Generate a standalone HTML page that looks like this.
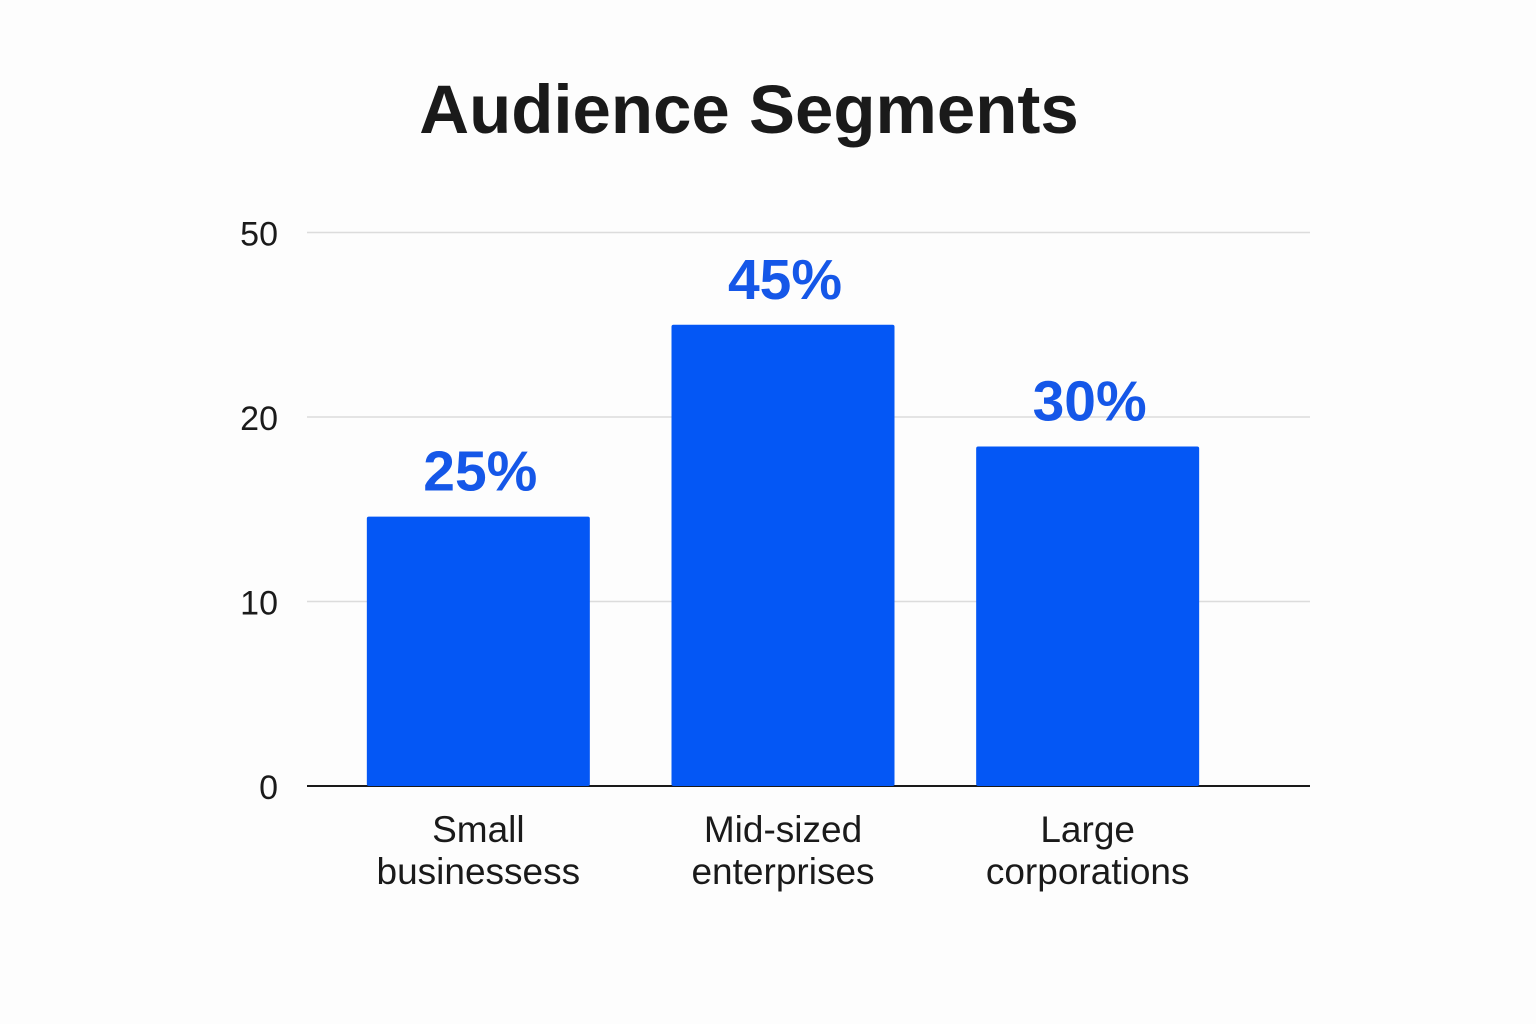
<!DOCTYPE html>
<html><head><meta charset="utf-8"><style>
html,body{margin:0;padding:0;background:#fdfdfd;}
svg{display:block;font-family:"Liberation Sans",sans-serif;}
</style></head><body>
<svg id="chart" width="1536" height="1024" viewBox="0 0 1536 1024">
<rect width="1536" height="1024" fill="#fdfdfd"/>
<text x="749" y="133" text-anchor="middle" font-size="69" font-weight="bold" fill="#1a1a1a">Audience Segments</text>
<g id="grid"></g><g id="bars"></g><g id="labels"></g>
</svg>
<script>
const categories = [["Small","businessess"],["Mid-sized","enterprises"],["Large","corporations"]];
const barValues = [14.6, 35, 18.4];
const valueLabels = ["25%","45%","30%"];
const tickValues = [0, 10, 20, 50];
const tickLabels = ["0","10","20","50"];

const NS="http://www.w3.org/2000/svg";
const plotL=307, plotR=1310, y0=786, step=184.5;
const bandStart=326, bandEnd=1240;
function yScale(v){
  for(let i=0;i<tickValues.length-1;i++){
    if(v<=tickValues[i+1]){const f=(v-tickValues[i])/(tickValues[i+1]-tickValues[i]);return y0-(i+f)*step;}
  }
  return y0-(tickValues.length-1)*step;
}
const band=(bandEnd-bandStart)/categories.length;
function xCenter(i){return bandStart+band*(i+0.5);}
function mk(tag,attrs,parent){const e=document.createElementNS(NS,tag);for(const k in attrs)e.setAttribute(k,attrs[k]);parent.appendChild(e);return e;}
const grid=document.getElementById('grid'),bars=document.getElementById('bars'),labels=document.getElementById('labels');
tickValues.forEach((t,i)=>{
  const y=yScale(t);
  if(i>0){const l=mk('line',{x1:plotL,x2:plotR,y1:y,y2:y,stroke:'#dcdcdc','stroke-width':1.5},grid);
  
  }
  const tx=mk('text',{x:278,y:y+13,'text-anchor':'end','font-size':34,fill:'#1a1a1a'},grid);
  tx.textContent=tickLabels[i];
  
  
});
const bw=223;
barValues.forEach((v,i)=>{
  const cx=xCenter(i), top=yScale(v);
  const r=mk('rect',{x:cx-bw/2,y:top,width:bw,height:y0-top,fill:'#0457f5',rx:2},bars);
  
  
  const t=mk('text',{x:cx+2,y:top-26,'text-anchor':'middle','font-size':57,'font-weight':'bold',fill:'#1557e8'},labels);
  t.textContent=valueLabels[i];
  
  
  categories[i].forEach((line,j)=>{
    const c=mk('text',{x:cx,y:842+j*42,'text-anchor':'middle','font-size':37,fill:'#1a1a1a'},labels);
    c.textContent=line;
    
    
  });
});
const ax=mk('line',{x1:plotL,x2:plotR,y1:y0,y2:y0,stroke:'#1a1a1a','stroke-width':2},grid);


</script>
</body></html>
